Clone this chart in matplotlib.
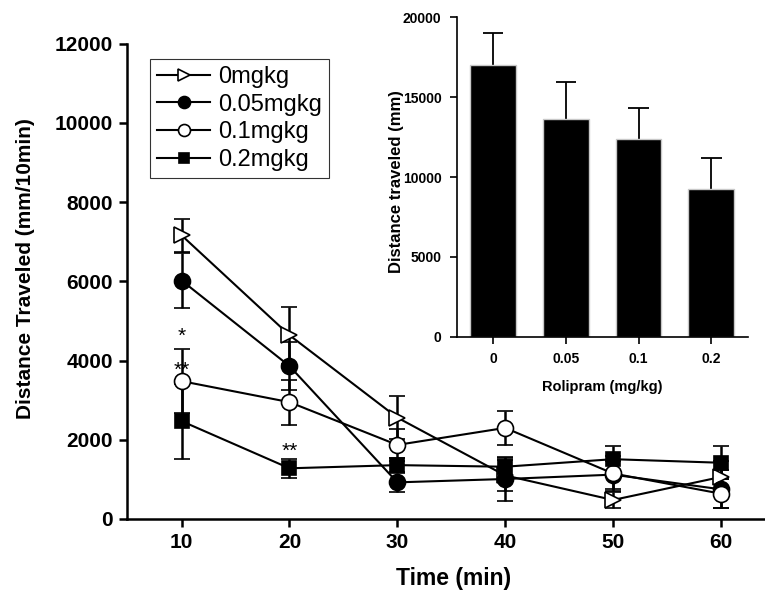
import matplotlib
matplotlib.use("Agg")
import matplotlib.pyplot as plt
from matplotlib.lines import Line2D
import numpy as np

plt.rcParams['font.family'] = ['Liberation Sans', 'DejaVu Sans']

# ---- data: main line chart ----
times = [10, 20, 30, 40, 50, 60]
labels = ['0mgkg', '0.05mgkg', '0.1mgkg', '0.2mgkg']
mean_0 = [7160, 4640, 2560, 1100, 480, 1060]
err_0 = [420, 715, 545, 400, 210, 400]
mean_005 = [6020, 3860, 925, 1010, 1120, 750]
err_005 = [700, 615, 235, 547, 350, 480]
mean_01 = [3480, 2950, 1870, 2300, 1150, 640]
err_01 = [810, 570, 400, 420, 450, 370]
mean_02 = [2470, 1280, 1360, 1320, 1510, 1420]
err_02 = [950, 240, 185, 225, 330, 420]

# significance marks (time, value, text)
sig_x = [10, 10, 20]
sig_y = [4620, 3760, 1720]
sig_txt = ['*', '**', '**']

# ---- data: inset bar chart ----
doses = ['0', '0.05', '0.1', '0.2']
total = [17025, 13650, 12375, 9230]
total_err = [2015, 2270, 1965, 1980]

fig = plt.figure(figsize=(7.65, 6.0), dpi=100)
ax = fig.add_axes([0.1656, 0.135, 1.0 - 0.1656, 0.9272 - 0.135])

styles = [
    dict(marker='>', mfc='white', ms=12),
    dict(marker='o', mfc='black', ms=11.5),
    dict(marker='o', mfc='white', ms=11.5),
    dict(marker='s', mfc='black', ms=10),
]
means = [mean_0, mean_005, mean_01, mean_02]
errs = [err_0, err_005, err_01, err_02]
handles = []
for m, e, st, lab in zip(means, errs, styles, labels):
    ax.errorbar(times, m, yerr=e, color='black', lw=1.5, mec='black',
                mew=1.2, capsize=5.5, capthick=1.8, elinewidth=1.8,
                label=lab, **st)
    handles.append(Line2D([], [], color='black', lw=1.5, mec='black', mew=1.2, **st))

for x, y, t in zip(sig_x, sig_y, sig_txt):
    ax.text(x, y, t, ha='center', va='center', fontsize=15)

ax.set_xlim(4.9, 64.1)
ax.set_ylim(0, 12000)
ax.set_xticks(times)
ax.set_yticks(np.arange(0, 12001, 2000))
for s in ['top', 'right']:
    ax.spines[s].set_visible(False)
for s in ['left', 'bottom']:
    ax.spines[s].set_linewidth(1.8)
ax.tick_params(direction='out', length=6, width=1.8, labelsize=15, pad=4)
for lbl in ax.get_xticklabels() + ax.get_yticklabels():
    lbl.set_fontweight('bold')
ax.set_xlabel('Time (min)', fontsize=16.5, fontweight='bold')
ax.set_ylabel('Distance Traveled (mm/10min)', fontsize=15, fontweight='bold')
ax.xaxis.set_label_coords((454 - 126.7) / 638.3, -(567 - 519) / 475.3)
ax.yaxis.set_label_coords((35 - 126.7) / 638.3, (519 - 269) / 475.3)

leg = ax.legend(handles=handles, labels=labels, loc='upper left',
                bbox_to_anchor=(150 / 765, 1 - 59 / 600),
                bbox_transform=fig.transFigure,
                fontsize=17, frameon=True, fancybox=False, markerscale=0.75,
                handlelength=2.25, handletextpad=0.35, borderpad=0.3,
                labelspacing=0.24, borderaxespad=0)
leg.get_frame().set_edgecolor('black')
leg.get_frame().set_linewidth(0.8)

# ---- inset ----
axi = fig.add_axes([456.7 / 765, 1 - 336.7 / 600, (747.7 - 456.7) / 765, (336.7 - 17.3) / 600])
xpos = np.arange(len(doses))
tops = np.array(total) + np.array(total_err)
axi.vlines(xpos, total, tops, color='black', lw=1.3, zorder=1)
axi.hlines(tops, xpos - 0.14, xpos + 0.14, color='black', lw=1.3, zorder=1)
axi.bar(xpos, total, width=0.63, color='black', edgecolor='#c8c8c8', linewidth=1.0,
        zorder=2)
axi.set_xlim(-0.5, 3.5)
axi.set_ylim(0, 20000)
axi.set_xticks(xpos)
axi.set_xticklabels(doses)
axi.set_yticks([0, 5000, 10000, 15000, 20000])
for s in ['top', 'right']:
    axi.spines[s].set_visible(False)
for s in ['left', 'bottom']:
    axi.spines[s].set_linewidth(1.2)
    axi.spines[s].set_zorder(3)
axi.tick_params(direction='out', length=5, width=1.2, labelsize=10, pad=6)
for lbl in axi.get_xticklabels() + axi.get_yticklabels():
    lbl.set_fontweight('bold')
axi.set_xlabel('Rolipram (mg/kg)', fontsize=10.5, fontweight='bold', labelpad=10)
axi.set_ylabel('Distance traveled (mm)', fontsize=12, fontweight='bold')
axi.yaxis.set_label_coords((404 - 456.7) / 291.0, 0.5 + (176.7 - 181) / 319.4)

fig.savefig('out.png', dpi=100)
